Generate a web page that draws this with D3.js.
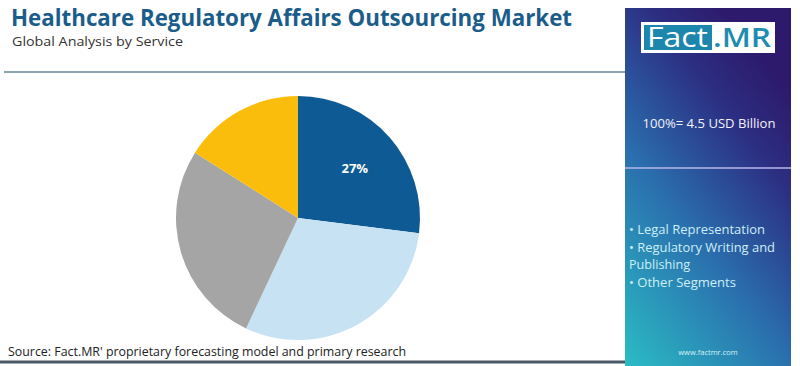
<!DOCTYPE html>
<html>
<head>
<meta charset="utf-8">
<script src="https://cdn.jsdelivr.net/npm/d3@7"></script>
<style>
  body { margin: 0; background: #fff; }
  #chart { width: 800px; height: 366px; }
  text { font-family: "Open Sans", "DejaVu Sans", sans-serif; }
</style>
</head>
<body>
<div id="chart"></div>
<script>
// Data
const segments = ['Legal Representation', 'Regulatory Writing and Publishing', 'Other A', 'Other B'];
const shares = [27, 30, 27, 16];
const sliceColors = ['#0d5a94', '#c6e2f3', '#a5a5a5', '#fbbd0b'];
const legendLines = ['• Legal Representation', '• Regulatory Writing and', 'Publishing', '• Other Segments'];
const totalLabel = '100%= 4.5 USD Billion';

const width = 800, height = 366;
const svg = d3.select('#chart').append('svg')
    .attr('width', width)
    .attr('height', height);

// Gradient for the side panel
const defs = svg.append('defs');
const grad = defs.append('linearGradient')
    .attr('id', 'panelGrad')
    .attr('x1', '0%').attr('y1', '100%')
    .attr('x2', '60%').attr('y2', '0%');
grad.append('stop').attr('offset', '0%').attr('stop-color', '#2bbcc4');
grad.append('stop').attr('offset', '45%').attr('stop-color', '#2a6fae');
grad.append('stop').attr('offset', '80%').attr('stop-color', '#2c2e82');
grad.append('stop').attr('offset', '100%').attr('stop-color', '#2d1a6c');

// Title block
svg.append('text')
    .attr('x', 11).attr('y', 26)
    .attr('font-size', 22.5)
    .attr('font-weight', 700)
    .attr('textLength', 561)
    .attr('lengthAdjust', 'spacingAndGlyphs')
    .attr('fill', '#1b5d8a')
    .text('Healthcare Regulatory Affairs Outsourcing Market');

svg.append('text')
    .attr('x', 12).attr('y', 46)
    .attr('font-size', 13.5)
    .attr('textLength', 171)
    .attr('lengthAdjust', 'spacingAndGlyphs')
    .attr('fill', '#333')
    .text('Global Analysis by Service');

svg.append('line')
    .attr('x1', 4).attr('x2', 625)
    .attr('y1', 72).attr('y2', 72)
    .attr('stroke', '#8ea3b0')
    .attr('stroke-width', 2);

svg.append('line')
    .attr('x1', 0).attr('x2', 625)
    .attr('y1', 362).attr('y2', 362)
    .attr('stroke', '#4b5966')
    .attr('stroke-width', 3);

svg.append('text')
    .attr('x', 8).attr('y', 356)
    .attr('font-size', 12.3)
    .attr('textLength', 398)
    .attr('lengthAdjust', 'spacingAndGlyphs')
    .attr('fill', '#222')
    .text("Source: Fact.MR' proprietary forecasting model and primary research");

// Pie
const cx = 298, cy = 218, r = 122;
const pie = d3.pie().sort(null).value(d => d);
const arc = d3.arc().innerRadius(0).outerRadius(r);
const arcs = pie(shares);

const pieG = svg.append('g').attr('transform', `translate(${cx},${cy})`);
pieG.selectAll('path')
    .data(arcs)
    .enter()
    .append('path')
    .attr('d', arc)
    .attr('fill', (d, i) => sliceColors[i]);

const labelArc = d3.arc().innerRadius(r * 0.62).outerRadius(r * 0.62);
pieG.append('text')
    .attr('transform', `translate(${labelArc.centroid(arcs[0])})`)
    .attr('dy', '0.35em')
    .attr('text-anchor', 'middle')
    .attr('font-size', 13)
    .attr('font-weight', 700)
    .attr('fill', '#fff')
    .text(shares[0] + '%');

// Side panel
const px = 625, pw = 166;
svg.append('rect')
    .attr('x', px).attr('y', 8)
    .attr('width', pw).attr('height', 358)
    .attr('fill', 'url(#panelGrad)');

svg.append('line')
    .attr('x1', px).attr('x2', px + pw)
    .attr('y1', 168).attr('y2', 168)
    .attr('stroke', '#b9b6ea')
    .attr('stroke-width', 1.5);

// Logo
svg.append('rect')
    .attr('x', 641).attr('y', 22)
    .attr('width', 134).attr('height', 31)
    .attr('fill', '#fff');
svg.append('rect')
    .attr('x', 644).attr('y', 25)
    .attr('width', 68).attr('height', 25)
    .attr('fill', '#1c86ad');
svg.append('text')
    .attr('x', 647).attr('y', 47)
    .attr('font-size', 27)
    .attr('textLength', 61)
    .attr('lengthAdjust', 'spacingAndGlyphs')
    .attr('fill', '#fff')
    .text('Fact');
svg.append('text')
    .attr('x', 713).attr('y', 47)
    .attr('font-size', 27)
    .attr('font-weight', 600)
    .attr('textLength', 58)
    .attr('lengthAdjust', 'spacingAndGlyphs')
    .attr('fill', '#1c8cb0')
    .text('.MR');

svg.append('text')
    .attr('x', px + pw / 2 + 1).attr('y', 128)
    .attr('text-anchor', 'middle')
    .attr('font-size', 13)
    .attr('textLength', 133)
    .attr('lengthAdjust', 'spacingAndGlyphs')
    .attr('fill', '#f2f2fa')
    .text(totalLabel);

const legendWidths = [136, 146, 61, 107];
svg.selectAll('.legend')
    .data(legendLines)
    .enter()
    .append('text')
    .attr('class', 'legend')
    .attr('x', 629)
    .attr('y', (d, i) => 234 + i * 17.5)
    .attr('font-size', 12)
    .attr('textLength', (d, i) => legendWidths[i])
    .attr('lengthAdjust', 'spacingAndGlyphs')
    .attr('fill', '#cdeff6')
    .text(d => d);

svg.append('text')
    .attr('x', px + pw / 2).attr('y', 355)
    .attr('text-anchor', 'middle')
    .attr('font-size', 7.5)
    .attr('fill', '#d8f2f6')
    .text('www.factmr.com');
</script>
</body>
</html>
